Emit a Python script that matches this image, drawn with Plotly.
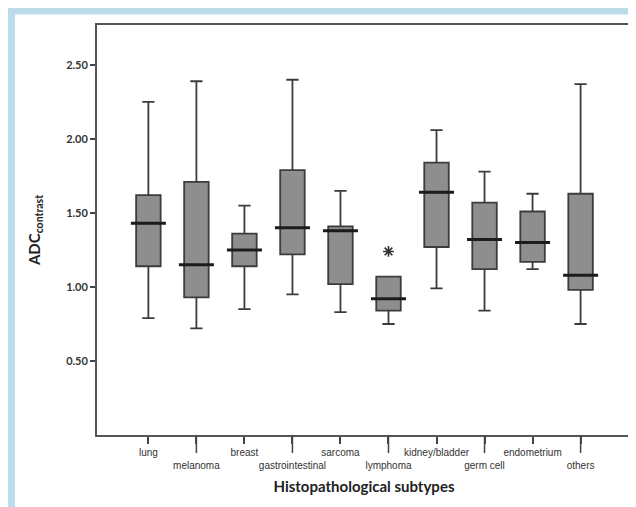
import plotly.graph_objects as go

categories = ["lung", "melanoma", "breast", "gastrointestinal", "sarcoma",
              "lymphoma", "kidney/bladder", "germ cell", "endometrium", "others"]
lower_whisker = [0.79, 0.72, 0.85, 0.95, 0.83, 0.75, 0.99, 0.84, 1.12, 0.75]
q1_values = [1.14, 0.93, 1.14, 1.22, 1.02, 0.84, 1.27, 1.12, 1.17, 0.98]
median_values = [1.43, 1.15, 1.25, 1.40, 1.38, 0.92, 1.64, 1.32, 1.30, 1.08]
q3_values = [1.62, 1.71, 1.36, 1.79, 1.41, 1.07, 1.84, 1.57, 1.51, 1.63]
upper_whisker = [2.25, 2.39, 1.55, 2.40, 1.65, 1.07, 2.06, 1.78, 1.63, 2.37]
outlier_category = ["lymphoma"]
outlier_values = [1.24]
y_tick_values = [0.5, 1.0, 1.5, 2.0, 2.5]

positions = list(range(len(categories)))
cat_pos = {c: i for i, c in enumerate(categories)}

fig = go.Figure()
fig.add_trace(go.Box(
    x=positions, q1=q1_values, median=median_values, q3=q3_values,
    lowerfence=lower_whisker, upperfence=upper_whisker,
    width=0.51, whiskerwidth=0.5,
    fillcolor="#8e8e8e", line=dict(color="#3c3c3c", width=1.8),
    boxpoints=False, showlegend=False, hoverinfo="skip",
))
fig.add_trace(go.Scatter(
    x=positions, y=median_values, mode="markers",
    marker=dict(symbol="line-ew", size=25, color="#1c1c1c",
                line=dict(color="#1c1c1c", width=3)),
    showlegend=False, hoverinfo="skip",
))
fig.add_trace(go.Scatter(
    x=[cat_pos[c] for c in outlier_category], y=outlier_values, mode="markers",
    marker=dict(symbol="asterisk-open", size=9, color="#333333",
                line=dict(color="#333333", width=1.6)),
    showlegend=False, hoverinfo="skip",
))

ticktext = [c if i % 2 == 0 else "<br>" + c for i, c in enumerate(categories)]

shapes = []
# longer tick marks for the second-row labels
for i in positions:
    if i % 2 == 1:
        shapes.append(dict(type="line", xref="x", yref="paper", x0=i, x1=i,
                           y0=0, y1=-18 / 410, line=dict(color="#444444", width=1.5)))
# light blue frame strips (page has an 8px body margin)
W, H = 534, 410
def px(x):
    return (x - 97) / W
def py(y):
    return (435 - y) / H
shapes.append(dict(type="rect", xref="paper", yref="paper", x0=px(6), x1=px(15),
                   y0=py(6), y1=py(520), fillcolor="#bcdcec", line=dict(width=0), layer="below"))
shapes.append(dict(type="rect", xref="paper", yref="paper", x0=px(6), x1=px(660),
                   y0=py(6), y1=py(14.5), fillcolor="#bcdcec", line=dict(width=0), layer="below"))

fig.update_layout(
    width=636, height=507,
    margin=dict(l=89, r=13, t=17, b=80),
    paper_bgcolor="white", plot_bgcolor="white",
    shapes=shapes,
    xaxis=dict(
        range=[-1.07, 10.05], tickmode="array", tickvals=positions, ticktext=ticktext,
        tickangle=0, automargin=False,
        ticks="outside", ticklen=7, tickwidth=1.5, tickcolor="#444444",
        showline=True, linecolor="#555555", linewidth=1.8, mirror=True,
        showgrid=False, zeroline=False,
        tickfont=dict(family="Liberation Sans, Arial", size=10, color="#333333"),
        title=dict(text="<b>Histopathological subtypes</b>", standoff=12,
                   font=dict(family="Lato, Open Sans", size=15, color="#222222")),
    ),
    yaxis=dict(
        range=[0, 2.77], tickmode="array", tickvals=y_tick_values,
        ticktext=[f"<b>{v:.2f}</b>" for v in y_tick_values],
        ticks="outside", ticklen=5, tickwidth=1.5, tickcolor="#444444",
        showline=True, linecolor="#555555", linewidth=1.8, mirror=True,
        showgrid=False, zeroline=False, automargin=False,
        tickfont=dict(family="Lato, Open Sans", size=11, color="#333333"),
        title=dict(text="<b>ADC<sub>contrast</sub></b>", standoff=22,
                   font=dict(family="Lato, Open Sans", size=15, color="#222222")),
    ),
)

fig.write_html("out.html")
